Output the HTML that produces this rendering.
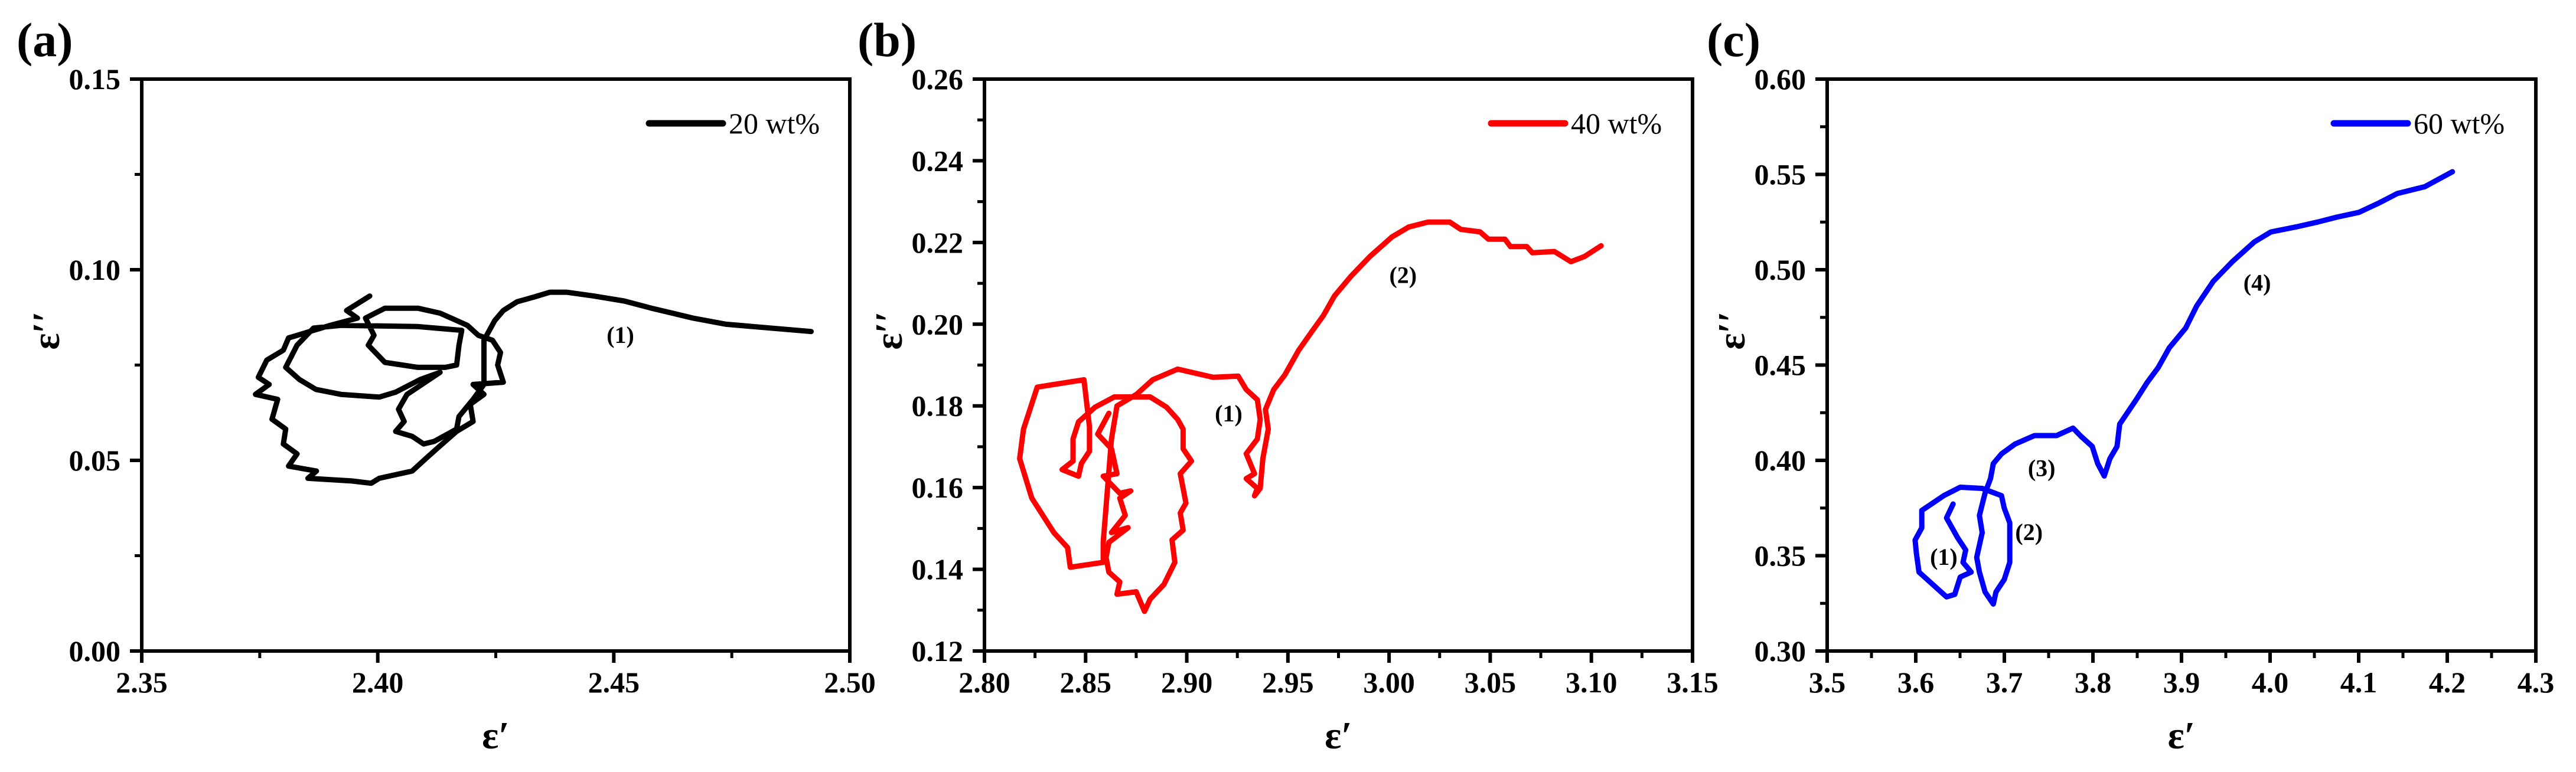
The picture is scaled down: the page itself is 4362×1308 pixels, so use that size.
<!DOCTYPE html>
<html><head><meta charset="utf-8">
<style>
html,body{margin:0;padding:0;background:#fff;}
svg{display:block;}
text{font-family:"Liberation Serif","DejaVu Serif",serif;}
</style></head>
<body>
<svg id="fig" width="4362" height="1308" viewBox="0 0 4362 1308" xmlns="http://www.w3.org/2000/svg"></svg>
<script>
// ---- Panel (a) data: 20 wt% ----
const aX=[2.3983,2.3934,2.3957,2.3899,2.3811,2.3800,2.3765,2.3747,2.3770,2.3741,2.3788,2.3776,2.3805,2.3800,2.3829,2.3811,2.3870,2.3852,2.3945,2.3986,2.4003,2.4073,2.4102,2.4131,2.4167,2.4202,2.4196,2.4225,2.4202,2.4266,2.4254,2.4260,2.4243,2.4213,2.4190,2.4132,2.4085,2.4015,2.3974,2.3992,2.3980,2.4015,2.4085,2.4143,2.4167,2.4172,2.4178,2.4085,2.3922,2.3864,2.3829,2.3805,2.3834,2.3869,2.3922,2.4003,2.4038,2.4090,2.4132,2.4062,2.4044,2.4056,2.4038,2.4073,2.4097,2.4120,2.4167,2.4172,2.4202,2.4225,2.4225,2.4248,2.4266,2.4295,2.4330,2.4365,2.4400,2.4458,2.4522,2.4580,2.4668,2.4738,2.4918];
const aY=[0.0931,0.0893,0.0873,0.0854,0.0821,0.0789,0.0763,0.0718,0.0699,0.0673,0.0660,0.0608,0.0582,0.0543,0.0517,0.0485,0.0472,0.0453,0.0446,0.0440,0.0453,0.0472,0.0505,0.0537,0.0576,0.0602,0.0647,0.0673,0.0699,0.0705,0.0750,0.0783,0.0815,0.0828,0.0854,0.0886,0.0899,0.0899,0.0873,0.0828,0.0802,0.0757,0.0744,0.0744,0.0750,0.0802,0.0841,0.0851,0.0854,0.0847,0.0802,0.0744,0.0712,0.0686,0.0673,0.0666,0.0679,0.0712,0.0731,0.0673,0.0634,0.0602,0.0576,0.0563,0.0543,0.0550,0.0582,0.0615,0.0660,0.0699,0.0815,0.0867,0.0893,0.0916,0.0928,0.0941,0.0941,0.0931,0.0918,0.0899,0.0873,0.0857,0.0838];
const aXTicks=["2.35","2.40","2.45","2.50"];
const aYTicks=["0.00","0.05","0.10","0.15"];
// ---- Panel (b) data: 40 wt% ----
const bX=[2.8615,2.8560,2.8628,2.8655,2.8587,2.8669,2.8723,2.8669,2.8696,2.8628,2.8710,2.8615,2.8601,2.8615,2.8669,2.8655,2.8750,2.8791,2.8819,2.8887,2.8941,2.8927,2.8982,2.8968,2.8996,2.8968,2.9023,2.8982,2.8982,2.8955,2.8900,2.8819,2.8723,2.8642,2.8547,2.8465,2.8438,2.8438,2.8384,2.8465,2.8479,2.8519,2.8519,2.8492,2.8261,2.8193,2.8174,2.8234,2.8343,2.8411,2.8424,2.8587,2.8587,2.8628,2.8655,2.8751,2.8832,2.8955,2.9131,2.9254,2.9294,2.9349,2.9363,2.9349,2.9294,2.9335,2.9294,2.9349,2.9335,2.9363,2.9376,2.9403,2.9389,2.9430,2.9485,2.9553,2.9621,2.9675,2.9730,2.9811,2.9906,3.0015,3.0097,3.0192,3.0300,3.0355,3.0450,3.0491,3.0573,3.0600,3.0681,3.0708,3.0817,3.0899,3.0967,3.1048];
const bY=[0.1782,0.1731,0.1695,0.1634,0.1628,0.1586,0.1592,0.1574,0.1532,0.1490,0.1502,0.1466,0.1429,0.1393,0.1369,0.1339,0.1345,0.1297,0.1327,0.1363,0.1417,0.1472,0.1496,0.1538,0.1562,0.1634,0.1665,0.1695,0.1743,0.1767,0.1797,0.1822,0.1822,0.1822,0.1797,0.1761,0.1719,0.1665,0.1644,0.1628,0.1659,0.1689,0.1749,0.1864,0.1846,0.1743,0.1671,0.1574,0.1490,0.1453,0.1405,0.1417,0.1466,0.1719,0.1800,0.1828,0.1864,0.1890,0.1870,0.1873,0.1840,0.1815,0.1767,0.1719,0.1683,0.1634,0.1622,0.1598,0.1580,0.1598,0.1671,0.1743,0.1791,0.1840,0.1876,0.1936,0.1984,0.2021,0.2069,0.2117,0.2166,0.2214,0.2238,0.2250,0.2250,0.2232,0.2226,0.2208,0.2208,0.2190,0.2190,0.2175,0.2178,0.2153,0.2166,0.2192];
const bXTicks=["2.80","2.85","2.90","2.95","3.00","3.05","3.10","3.15"];
const bYTicks=["0.12","0.14","0.16","0.18","0.20","0.22","0.24","0.26"];
// ---- Panel (c) data: 60 wt% ----
const cX=[3.6421,3.6347,3.6471,3.6564,3.6533,3.6626,3.6502,3.6440,3.6347,3.6192,3.6037,3.6006,3.5993,3.6068,3.6068,3.6192,3.6316,3.6502,3.6750,3.6968,3.6999,3.7061,3.7061,3.7061,3.6999,3.6906,3.6875,3.6782,3.6719,3.6688,3.6750,3.6719,3.6782,3.6844,3.6875,3.6968,3.7123,3.7340,3.7589,3.7775,3.7868,3.7992,3.8054,3.8128,3.8191,3.8272,3.8302,3.8489,3.8613,3.8737,3.8861,3.9047,3.9171,3.9358,3.9575,3.9823,4.0009,4.0289,4.0537,4.0754,4.1003,4.1220,4.1437,4.1748,4.2058];
const cY=[0.3771,0.3698,0.3595,0.3530,0.3465,0.3414,0.3388,0.3297,0.3284,0.3349,0.3414,0.3517,0.3582,0.3646,0.3737,0.3776,0.3815,0.3859,0.3853,0.3815,0.3750,0.3672,0.3569,0.3465,0.3375,0.3310,0.3246,0.3310,0.3414,0.3491,0.3621,0.3711,0.3828,0.3905,0.3983,0.4034,0.4086,0.4130,0.4130,0.4169,0.4125,0.4073,0.3983,0.3918,0.4009,0.4073,0.4190,0.4319,0.4409,0.4487,0.4590,0.4694,0.4810,0.4939,0.5043,0.5146,0.5198,0.5224,0.5250,0.5276,0.5301,0.5348,0.5400,0.5436,0.5514];
const cXTicks=["3.5","3.6","3.7","3.8","3.9","4.0","4.1","4.2","4.3"];
const cYTicks=["0.30","0.35","0.40","0.45","0.50","0.55","0.60"];

const NS="http://www.w3.org/2000/svg";
const svg=document.getElementById('fig');
function mk(tag,attrs,parent){const e=document.createElementNS(NS,tag);for(const k in attrs)e.setAttribute(k,attrs[k]);(parent||svg).appendChild(e);return e;}

function panel(cfg){
  const g=mk('g',{});
  
  
  const L=cfg.left,R=cfg.right,T=134,B=1103;
  const xs=v=>L+(v-cfg.xmin)/(cfg.xmax-cfg.xmin)*(R-L);
  const ys=v=>B-(v-cfg.ymin)/(cfg.ymax-cfg.ymin)*(B-T);
  // ticks
  const nx=cfg.xt.length, ny=cfg.yt.length;
  for(let i=0;i<nx;i++){
    const v=cfg.xmin+i*(cfg.xmax-cfg.xmin)/(nx-1), x=xs(v);
    const t=mk('line',{x1:x,x2:x,y1:B,y2:B+20,stroke:'#000','stroke-width':6},g);
    
    
    const lb=mk('text',{x:x,y:B+70,'text-anchor':'middle','font-size':50,'font-weight':'bold'},g);
    lb.textContent=cfg.xt[i];
    
    
    if(i<nx-1){const xm=xs(v+(cfg.xmax-cfg.xmin)/(nx-1)/2);
      const m=mk('line',{x1:xm,x2:xm,y1:B,y2:B+12,stroke:'#000','stroke-width':5},g);
      
      }
  }
  for(let i=0;i<ny;i++){
    const v=cfg.ymin+i*(cfg.ymax-cfg.ymin)/(ny-1), y=ys(v);
    const t=mk('line',{x1:L-20,x2:L,y1:y,y2:y,stroke:'#000','stroke-width':6},g);
    
    
    const lb=mk('text',{x:L-36,y:y+17,'text-anchor':'end','font-size':50,'font-weight':'bold'},g);
    lb.textContent=cfg.yt[i];
    
    
    if(i<ny-1){const ym=ys(v+(cfg.ymax-cfg.ymin)/(ny-1)/2);
      const m=mk('line',{x1:L-12,x2:L,y1:ym,y2:ym,stroke:'#000','stroke-width':5},g);
      
      }
  }
  const fr=mk('rect',{x:L,y:T,width:R-L,height:B-T,fill:'none',stroke:'#000','stroke-width':6},g);
  
  
  // series
  let d='';
  for(let i=0;i<cfg.X.length;i++)d+=(i?'L':'M')+xs(cfg.X[i]).toFixed(1)+' '+ys(cfg.Y[i]).toFixed(1);
  const p=mk('path',{d:d,fill:'none',stroke:cfg.color,'stroke-width':9,'stroke-linejoin':'round','stroke-linecap':'round'},g);
  
  
  // annotations
  cfg.notes.forEach(n=>{
    const t=mk('text',{x:xs(n[0]),y:ys(n[1])+14,'text-anchor':'middle','font-size':40,'font-weight':'bold'},g);
    t.textContent=n[2];
    
    
  });
  // legend
  const ll=mk('line',{x1:cfg.lx,x2:cfg.lx+125,y1:209,y2:209,stroke:cfg.color,'stroke-width':11,'stroke-linecap':'round'},g);
  
  
  const lt=mk('text',{x:cfg.lx+135,y:226,'font-size':50},g);
  lt.textContent=cfg.legend;
  
  
  // titles
  const xt=mk('text',{x:(L+R)/2,y:1268,'text-anchor':'middle','font-size':66,'font-weight':'bold'},g);
  xt.textContent='ε′';
  
  
  const yt=mk('text',{x:0,y:0,'text-anchor':'middle','font-size':66,'font-weight':'bold',transform:'translate('+(L-140)+',560) rotate(-90)'},g);
  yt.textContent='ε′′';
  
  
  const pl=mk('text',{x:cfg.labx,y:95,'font-size':82,'font-weight':'bold'},g);
  pl.textContent=cfg.lab;
  
  
}
panel({id:'a',left:240,right:1439,xmin:2.35,xmax:2.50,ymin:0,ymax:0.15,xt:aXTicks,yt:aYTicks,X:aX,Y:aY,color:'#000',
  notes:[[2.4514,0.083,'(1)']],lx:1099,legend:'20 wt%',labx:28,lab:'(a)'});
panel({id:'b',left:1667,right:2866,xmin:2.80,xmax:3.15,ymin:0.12,ymax:0.26,xt:bXTicks,yt:bYTicks,X:bX,Y:bY,color:'#ff0000',
  notes:[[2.9207,0.1782,'(1)'],[3.0069,0.2121,'(2)']],lx:2525,legend:'40 wt%',labx:1452,lab:'(b)'});
panel({id:'c',left:3094,right:4294,xmin:3.5,xmax:4.3,ymin:0.30,ymax:0.60,xt:cXTicks,yt:cYTicks,X:cX,Y:cY,color:'#0000ff',
  notes:[[3.6316,0.3496,'(1)'],[3.7278,0.3626,'(2)'],[3.7421,0.3962,'(3)'],[3.9854,0.4934,'(4)']],lx:3952,legend:'60 wt%',labx:2890,lab:'(c)'});
</script>
</body></html>
